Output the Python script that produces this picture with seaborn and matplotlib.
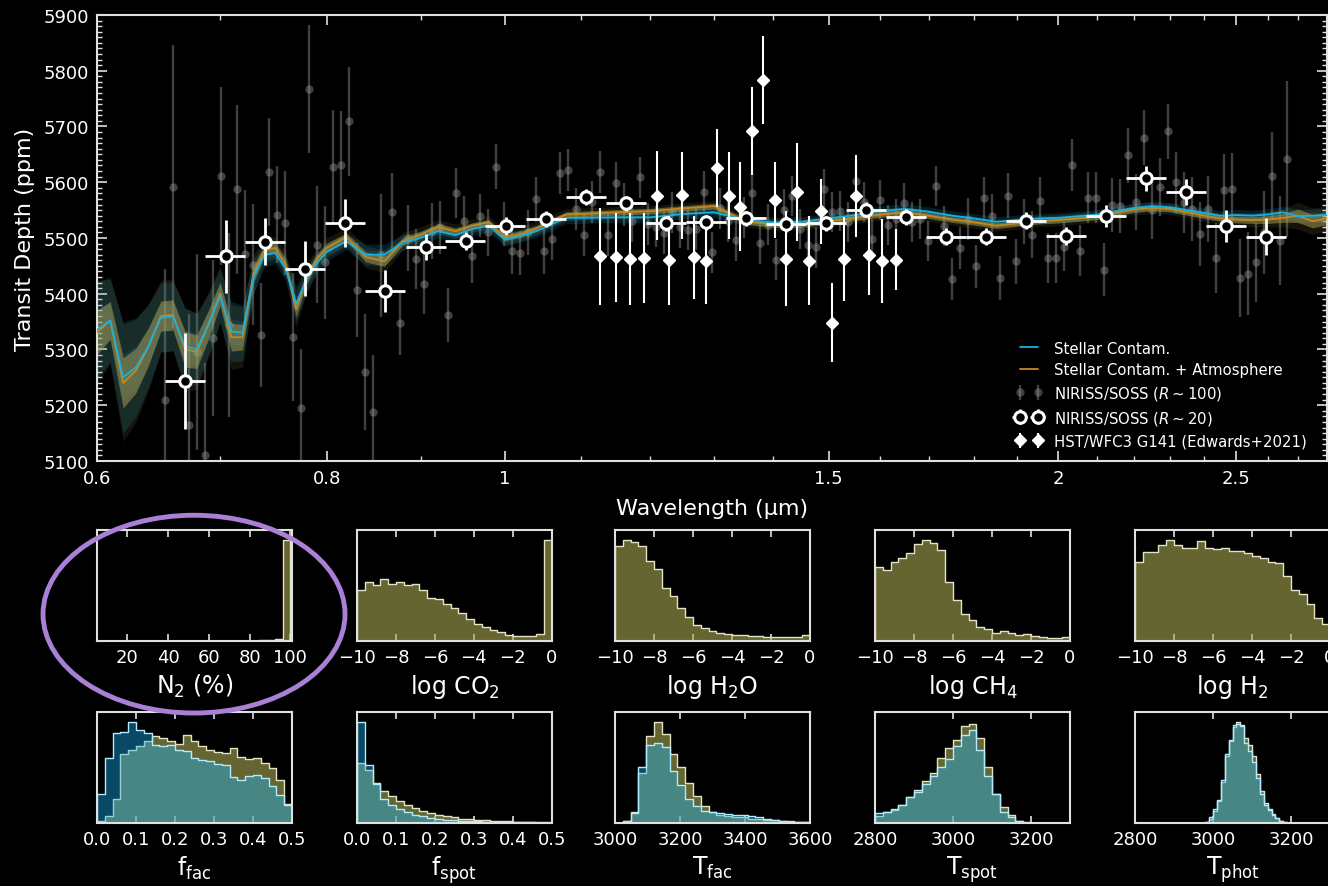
import numpy as np
import matplotlib
matplotlib.use("Agg")
import matplotlib.pyplot as plt
import seaborn as sns
from matplotlib.patches import Ellipse
from matplotlib.ticker import MultipleLocator, FixedLocator, FixedFormatter, NullFormatter

# ---------------- spectrum data ----------------
gray_wl = [0.6536, 0.6602, 0.6736, 0.6804, 0.6872, 0.6941, 0.7011, 0.7082, 0.7153, 0.7225,
           0.7298, 0.7371, 0.7445, 0.7520, 0.7596, 0.7672, 0.7749, 0.7827, 0.7906, 0.7985,
           0.8066, 0.8147, 0.8229, 0.8312, 0.8395, 0.8480, 0.8565,
           0.8684, 0.8771, 0.8860, 0.8949, 0.9039, 0.9130, 0.9222, 0.9315, 0.9408, 0.9503,
           0.9599, 0.9695, 0.9793, 0.9892, 0.9991, 1.0092, 1.0194, 1.0296, 1.0400, 1.0504,
           1.0610, 1.0717, 1.0825, 1.0934, 1.1044, 1.1155, 1.1267, 1.1381, 1.1495, 1.1611,
           1.1728, 1.1846, 1.1965, 1.2086, 1.2207, 1.2330, 1.2455, 1.2580, 1.2707, 1.2834,
           1.2964, 1.3094, 1.3226, 1.3359, 1.3494, 1.3629, 1.3767, 1.3905, 1.4045, 1.4186,
           1.4329, 1.4474, 1.4620, 1.4767, 1.4915, 1.5065, 1.5217, 1.5370, 1.5525, 1.5681,
           1.5839, 1.5999, 1.6159, 1.6322, 1.6486, 1.6652, 1.6820, 1.6989, 1.7160, 1.7333,
           1.7508, 1.7684, 1.7862, 1.8042, 1.8223, 1.8407, 1.8592, 1.8779, 1.8968, 1.9159,
           1.9352, 1.9547, 1.9744, 1.9943, 2.0143, 2.0346, 2.0551, 2.0758, 2.0967, 2.1178,
           2.1391, 2.1606, 2.1824, 2.2044, 2.2265, 2.2490, 2.2716, 2.2945, 2.3176, 2.3409,
           2.3645, 2.3883, 2.4123, 2.4366, 2.4611, 2.4859, 2.5109, 2.5362, 2.5617, 2.5875,
           2.6136, 2.6399, 2.6620]
gray_depth = [5209, 5592, 5165, 5295, 5111, 5321, 5611, 5344, 5587, 5471,
              5452, 5326, 5618, 5542, 5527, 5322, 5195, 5767, 5488, 5456,
              5627, 5631, 5709, 5407, 5259, 5187, 5469,
              5546, 5347, 5500, 5462, 5418, 5512, 5519, 5362, 5580, 5530,
              5468, 5540, 5510, 5628, 5525, 5477, 5473, 5510, 5569, 5476,
              5498, 5617, 5622, 5552, 5505, 5564, 5618, 5505, 5598, 5560,
              5530, 5609, 5525, 5520, 5509, 5546, 5519, 5515, 5516, 5583,
              5474, 5553, 5530, 5496, 5537, 5580, 5491, 5524, 5461, 5550,
              5575, 5516, 5488, 5483, 5588, 5546, 5549, 5528, 5602, 5564,
              5498, 5568, 5524, 5534, 5562, 5528, 5534, 5494, 5593, 5521,
              5426, 5482, 5534, 5449, 5572, 5540, 5428, 5576, 5458, 5530,
              5506, 5567, 5464, 5464, 5484, 5631, 5477, 5572, 5572, 5443,
              5559, 5557, 5648, 5565, 5680, 5551, 5591, 5691, 5600, 5564,
              5552, 5507, 5552, 5464, 5586, 5588, 5428, 5436, 5456, 5510,
              5612, 5495, 5642]
gray_err = [236, 254, 199, 176, 164, 140, 160, 165, 151, 115,
            109, 94, 97, 87, 94, 115, 105, 115, 105, 102,
            102, 96, 98, 84, 104, 103, 110,
            71, 57, 59, 54, 55, 50, 48, 48, 45, 45,
            48, 39, 42, 40, 40, 42, 40, 40, 40, 40,
            38, 38, 38, 38, 38, 38, 38, 38, 38, 38,
            37, 37, 37, 37, 37, 37, 37, 37, 37, 37,
            37, 37, 37, 37, 37, 37, 37, 37, 37, 37,
            36, 36, 36, 36, 36, 36, 36, 36, 36, 36,
            36, 36, 36, 36, 36, 36, 36, 36, 36, 36,
            38, 38, 38, 38, 38, 38, 40, 40, 40, 40,
            42, 42, 44, 44, 44, 46, 46, 46, 46, 48,
            48, 48, 50, 50, 50, 52, 52, 50, 55, 55,
            58, 58, 60, 62, 65, 65, 70, 75, 70, 75,
            78, 80, 140]

r20_wl = [0.670, 0.705, 0.741, 0.779, 0.819, 0.861, 0.906, 0.952, 1.001, 1.053,
          1.107, 1.164, 1.224, 1.287, 1.353, 1.422, 1.495, 1.572, 1.653, 1.738,
          1.827, 1.921, 2.020, 2.124, 2.233, 2.348, 2.469, 2.595]
r20_depth = [5244, 5467, 5493, 5445, 5526, 5405, 5484, 5494, 5521, 5534,
             5573, 5562, 5526, 5528, 5535, 5525, 5526, 5551, 5538, 5502,
             5502, 5531, 5503, 5540, 5607, 5583, 5522, 5502]
r20_err = [86, 65, 42, 49, 43, 38, 23, 16, 16, 15,
           14, 14, 14, 14, 14, 14, 14, 14, 14, 15,
           15, 15, 16, 20, 22, 23, 29, 33]
R_BIN = 20

hst_wl = [1.127, 1.149, 1.170, 1.190, 1.210, 1.229, 1.248, 1.267, 1.286, 1.305,
          1.324, 1.343, 1.362, 1.381, 1.402, 1.422, 1.442, 1.463, 1.485, 1.507,
          1.530, 1.553, 1.578, 1.604, 1.632]
hst_depth = [5467, 5465, 5462, 5464, 5576, 5460, 5577, 5465, 5459, 5626,
             5576, 5556, 5692, 5783, 5568, 5463, 5582, 5459, 5548, 5348,
             5462, 5575, 5469, 5459, 5461]
hst_err = [87, 80, 82, 80, 80, 80, 78, 75, 78, 70,
           78, 80, 79, 79, 68, 85, 88, 80, 58, 71,
           75, 74, 72, 75, 55]

# ---------------- model curves ----------------
wl_model = [0.60, 0.61, 0.62, 0.63, 0.64, 0.65, 0.66, 0.67, 0.68, 0.69, 0.70,
            0.71, 0.72, 0.73, 0.74, 0.75, 0.76, 0.77, 0.78, 0.79, 0.80,
            0.82, 0.84, 0.86, 0.88, 0.90, 0.92, 0.94, 0.96, 0.98, 1.00,
            1.02, 1.04, 1.06, 1.08, 1.10,
            1.15, 1.20, 1.25, 1.30, 1.35, 1.40, 1.45, 1.50, 1.55, 1.60,
            1.65, 1.70, 1.75, 1.80, 1.85, 1.90, 1.95, 2.00, 2.05, 2.10,
            2.15, 2.20, 2.25, 2.30, 2.35, 2.40, 2.45, 2.50, 2.55, 2.60,
            2.65, 2.70, 2.75, 2.80]
model_sc = [5335, 5352, 5250, 5268, 5306, 5357, 5359, 5305, 5301, 5345, 5396,
            5332, 5330, 5430, 5470, 5473, 5445, 5382, 5425, 5455, 5475,
            5494, 5470, 5470, 5492, 5500, 5512, 5505, 5516, 5522, 5497,
            5504, 5512, 5524, 5536, 5536,
            5537, 5537, 5543, 5546, 5532, 5528, 5529, 5535, 5541, 5548,
            5552, 5547, 5540, 5535, 5529, 5532, 5535, 5536, 5539, 5542,
            5548, 5554, 5557, 5555, 5550, 5545, 5540, 5541, 5540, 5542,
            5546, 5539, 5540, 5541]
model_atm = [5330, 5352, 5240, 5262, 5305, 5360, 5362, 5300, 5296, 5345, 5400,
             5322, 5322, 5436, 5478, 5482, 5452, 5372, 5428, 5462, 5482,
             5502, 5466, 5458, 5494, 5506, 5520, 5512, 5522, 5528, 5501,
             5507, 5517, 5530, 5542, 5543,
             5546, 5548, 5553, 5557, 5530, 5524, 5524, 5530, 5536, 5542,
             5546, 5540, 5533, 5528, 5522, 5526, 5530, 5532, 5535, 5538,
             5545, 5551, 5554, 5552, 5546, 5540, 5535, 5533, 5532, 5533,
             5536, 5540, 5530, 5535]
sig1_sc = [38, 32, 42, 38, 32, 26, 26, 30, 28, 24, 20,
           23, 21, 14, 9, 8, 9, 13, 10, 8, 7,
           6, 8, 8, 6, 5, 5, 5, 5, 5, 5,
           5, 5, 4, 4, 4,
           4, 4, 4, 4, 4, 4, 4, 4, 4, 4,
           4, 4, 4, 4, 4, 4, 4, 4, 4, 4,
           4, 4, 4, 4, 4, 4, 4, 5, 5, 5,
           5, 6, 6, 6]
sig2_sc = [88, 74, 100, 88, 74, 62, 62, 70, 64, 55, 48,
           54, 50, 32, 22, 19, 22, 32, 24, 19, 17,
           14, 19, 19, 14, 12, 12, 11, 11, 11, 12,
           11, 11, 10, 10, 10,
           9, 9, 9, 9, 9, 9, 9, 9, 9, 9,
           9, 9, 9, 9, 9, 9, 9, 9, 9, 9,
           9, 9, 9, 9, 9, 9, 9, 10, 10, 10,
           11, 12, 12, 12]
sig1_atm = [40, 34, 45, 40, 34, 27, 27, 32, 30, 26, 21,
            25, 23, 15, 10, 9, 10, 14, 11, 9, 8,
            7, 9, 9, 7, 6, 6, 6, 5, 5, 6,
            6, 5, 5, 5, 5,
            5, 5, 5, 5, 5, 5, 5, 5, 5, 5,
            5, 5, 5, 5, 5, 5, 5, 5, 5, 5,
            5, 5, 5, 5, 5, 5, 5, 6, 6, 7,
            8, 12, 12, 11]
sig2_atm = [92, 78, 105, 92, 78, 64, 64, 74, 68, 58, 50,
            58, 54, 34, 23, 20, 23, 33, 25, 20, 18,
            16, 20, 20, 16, 14, 13, 13, 12, 12, 13,
            13, 12, 11, 11, 11,
            10, 10, 10, 10, 10, 10, 10, 10, 10, 10,
            10, 10, 10, 10, 10, 10, 10, 10, 10, 10,
            10, 10, 10, 10, 10, 10, 10, 12, 12, 14,
            16, 24, 24, 22]

# ---------------- posterior histograms (relative heights) ----------------
n2_range = (5, 100)
n2_atm = [0, 0, 0, 0, 0, 0, 0, 0, 0, 0, 0, 0, 0, 0, 0, 0, 0, 0, 0,
          0.003, 0.004, 0.006, 0.008, 0.015, 0.905]
co2_range = (-10, 0)
co2_atm = [0.46, 0.527, 0.50, 0.556, 0.51, 0.527, 0.506, 0.51, 0.456, 0.39,
           0.38, 0.33, 0.30, 0.25, 0.20, 0.157, 0.127, 0.098, 0.083, 0.053,
           0.044, 0.044, 0.047, 0.06, 0.905]
h2o_range = (-10, 0)
h2o_atm = [0.85, 0.905, 0.89, 0.855, 0.72, 0.645, 0.48, 0.40, 0.30, 0.215,
           0.14, 0.113, 0.09, 0.068, 0.062, 0.055, 0.05, 0.045, 0.042, 0.038,
           0.036, 0.034, 0.036, 0.04, 0.053]
ch4_range = (-10, 0)
ch4_atm = [0.666, 0.636, 0.71, 0.746, 0.79, 0.867, 0.905, 0.88, 0.822, 0.527,
           0.364, 0.246, 0.186, 0.127, 0.107, 0.068, 0.089, 0.074, 0.053, 0.059,
           0.047, 0.038, 0.030, 0.024, 0.038]
h2_range = (-10, 0)
h2_atm = [0.713, 0.80, 0.80, 0.858, 0.905, 0.858, 0.84, 0.84, 0.896, 0.84,
          0.83, 0.84, 0.81, 0.81, 0.79, 0.763, 0.75, 0.713, 0.70, 0.58,
          0.46, 0.42, 0.334, 0.207, 0.157]
ffac_range = (0, 0.5)
ffac_atm = [0.02, 0.06, 0.22, 0.62, 0.66, 0.69, 0.74, 0.78, 0.76, 0.74,
            0.71, 0.79, 0.74, 0.69, 0.66, 0.64, 0.63, 0.67, 0.59, 0.575,
            0.585, 0.54, 0.495, 0.39, 0.17]
ffac_sc = [0.26, 0.585, 0.81, 0.82, 0.905, 0.84, 0.81, 0.70, 0.69, 0.70,
           0.66, 0.645, 0.585, 0.57, 0.555, 0.53, 0.525, 0.41, 0.39, 0.42,
           0.43, 0.40, 0.33, 0.25, 0.16]
fspot_range = (0, 0.5)
fspot_atm = [0.54, 0.48, 0.36, 0.29, 0.245, 0.20, 0.16, 0.135, 0.11, 0.09,
             0.075, 0.06, 0.05, 0.04, 0.035, 0.03, 0.025, 0.02, 0.018, 0.015,
             0.012, 0.01, 0.008, 0.006, 0.005]
fspot_sc = [0.91, 0.525, 0.347, 0.22, 0.16, 0.125, 0.095, 0.075, 0.06, 0.045,
            0.035, 0.03, 0.025, 0.02, 0.018, 0.015, 0.013, 0.012, 0.01, 0.01,
            0.008, 0.006, 0.005, 0.004, 0.003]
tfac_range = (3000, 3600)
tfac_atm = [0.0, 0.02, 0.10, 0.45, 0.78, 0.905, 0.80, 0.62, 0.50, 0.36,
            0.24, 0.15, 0.10, 0.075, 0.065, 0.055, 0.05, 0.04, 0.035, 0.03,
            0.025, 0.018, 0.012, 0.01, 0.008]
tfac_sc = [0.0, 0.02, 0.09, 0.50, 0.70, 0.72, 0.68, 0.47, 0.34, 0.22,
           0.15, 0.11, 0.10, 0.09, 0.085, 0.075, 0.07, 0.06, 0.05, 0.04,
           0.03, 0.02, 0.015, 0.01, 0.008]
tspot_range = (2800, 3300)
tspot_atm = [0.065, 0.095, 0.12, 0.16, 0.23, 0.30, 0.38, 0.45, 0.585, 0.67,
             0.75, 0.87, 0.89, 0.76, 0.50, 0.26, 0.14, 0.07, 0.02, 0.005,
             0, 0, 0, 0, 0]
tspot_sc = [0.09, 0.10, 0.125, 0.16, 0.23, 0.28, 0.35, 0.42, 0.50, 0.575,
            0.69, 0.79, 0.837, 0.66, 0.42, 0.26, 0.095, 0.05, 0.015, 0.003,
            0, 0, 0, 0, 0]
tphot_range = (2980, 3190)
tphot_atm = [0.005, 0.04, 0.11, 0.20, 0.37, 0.60, 0.74, 0.86, 0.905, 0.88,
             0.76, 0.70, 0.60, 0.44, 0.29, 0.18, 0.13, 0.08, 0.045, 0.018, 0.005]
tphot_sc = [0.006, 0.05, 0.125, 0.21, 0.39, 0.62, 0.745, 0.88, 0.89, 0.87,
            0.72, 0.65, 0.55, 0.40, 0.26, 0.16, 0.12, 0.075, 0.045, 0.02, 0.006]

# ---------------- style ----------------
sns.set_theme(style="ticks")
plt.rcParams.update({
    "figure.facecolor": "black", "axes.facecolor": "black", "savefig.facecolor": "black",
    "axes.edgecolor": "#e0e0e0", "axes.linewidth": 1.5,
    "text.color": "white", "axes.labelcolor": "white",
    "xtick.color": "#e0e0e0", "ytick.color": "#e0e0e0",
    "xtick.labelcolor": "white", "ytick.labelcolor": "white",
    "xtick.direction": "in", "ytick.direction": "in",
    "legend.labelcolor": "white",
    "mathtext.fontset": "dejavusans",
})
plt.rcParams["font.family"] = ["DejaVu Sans"]

C_SC = "#1ab0e0"
C_ATM = "#c08a20"
C_BAND_ATM = "#b0a055"
C_OLIVE = "#aaaa55"
C_BLUE = "#1ab9ff"

fig = plt.figure(figsize=(13.28, 8.87), dpi=100)
ax = fig.add_axes([0.0730, 0.4792, 0.9262, 0.5028])
ax.set_xscale("log")

eb_gray = ax.errorbar(gray_wl, gray_depth, yerr=gray_err, fmt="o", ms=6, color="#a8a8a8",
                      alpha=0.38, elinewidth=1.7, capsize=0, mew=0, zorder=1)

wlm = np.array(wl_model)
bands = [(model_sc, sig1_sc, sig2_sc, C_SC, 0.12, 0.17),
         (model_atm, sig1_atm, sig2_atm, C_BAND_ATM, 0.5, 0.12)]
for mod, s1, s2, col, a1, a2 in bands:
    m = np.array(mod, float)
    ax.fill_between(wlm, m - np.array(s2), m + np.array(s2), color=col, alpha=a2, lw=0, zorder=2)
for mod, s1, s2, col, a1, a2 in bands:
    m = np.array(mod, float)
    ax.fill_between(wlm, m - np.array(s1), m + np.array(s1), color=col, alpha=a1, lw=0, zorder=2)

sns.lineplot(x=wl_model, y=model_atm, ax=ax, color=C_ATM, lw=1.3, zorder=3)
line_atm = ax.lines[-1]
sns.lineplot(x=wl_model, y=model_sc, ax=ax, color=C_SC, lw=1.3, zorder=3)
line_sc = ax.lines[-1]

r20 = np.array(r20_wl)
eb_hst = ax.errorbar(hst_wl, hst_depth, yerr=hst_err, fmt="D", ms=6, color="white",
                     mec="white", elinewidth=1.5, capsize=0, zorder=5)
eb_r20 = ax.errorbar(r20_wl, r20_depth, xerr=r20 / (2 * R_BIN), yerr=r20_err, fmt="o", ms=8.3,
                     mfc="black", mec="white", mew=2.2, ecolor="white", elinewidth=2,
                     capsize=0, zorder=6)

ax.set_xlim(0.6, 2.8)
ax.set_ylim(5100, 5900)
ax.xaxis.set_major_locator(FixedLocator([0.6, 0.8, 1.0, 1.5, 2.0, 2.5]))
ax.xaxis.set_major_formatter(FixedFormatter(["0.6", "0.8", "1", "1.5", "2", "2.5"]))
ax.xaxis.set_minor_locator(FixedLocator([0.7, 0.9, 1.1, 1.2, 1.3, 1.4, 1.6, 1.7, 1.8, 1.9,
                                         2.1, 2.2, 2.3, 2.4, 2.6, 2.7]))
ax.xaxis.set_minor_formatter(NullFormatter())
ax.yaxis.set_major_locator(MultipleLocator(100))
ax.yaxis.set_minor_locator(MultipleLocator(10))
ax.tick_params(which="both", direction="in", top=True, right=True)
ax.tick_params(which="major", length=7, width=1.2, labelsize=13, pad=6)
ax.tick_params(which="minor", length=3.5, width=1.0)
ax.set_xlabel("Wavelength (μm)", fontsize=16, labelpad=8)
ax.set_ylabel("Transit Depth (ppm)", fontsize=16, labelpad=6)

ax.legend([line_sc, line_atm, eb_gray, eb_r20, eb_hst],
          ["Stellar Contam.", "Stellar Contam. + Atmosphere",
           r"NIRISS/SOSS ($R\sim100$)", r"NIRISS/SOSS ($R\sim20$)",
           "HST/WFC3 G141 (Edwards+2021)"],
          loc="lower right", bbox_to_anchor=(0.992, 0.005), frameon=False, fontsize=10.7,
          numpoints=2, handlelength=1.8, handletextpad=0.8, labelspacing=0.45,
          borderaxespad=0.3)

# ---------------- histogram panels ----------------
col_left = [0.0730, 0.2688, 0.4631, 0.6589, 0.8547]
row_bottom = [0.2762, 0.0710]
pw, ph = 0.1468, 0.1255

panels = [
    (0, 0, r"N$_2$ (%)", n2_range, n2_atm, None, [20, 40, 60, 80, 100], (5, 100.8)),
    (0, 1, r"log CO$_2$", co2_range, co2_atm, None, [-10, -8, -6, -4, -2, 0], (-10, 0)),
    (0, 2, r"log H$_2$O", h2o_range, h2o_atm, None, [-10, -8, -6, -4, -2, 0], (-10, 0)),
    (0, 3, r"log CH$_4$", ch4_range, ch4_atm, None, [-10, -8, -6, -4, -2, 0], (-10, 0)),
    (0, 4, r"log H$_2$", h2_range, h2_atm, None, [-10, -8, -6, -4, -2, 0], (-10, 0)),
    (1, 0, r"f$_{\mathrm{fac}}$", ffac_range, ffac_atm, ffac_sc, [0.0, 0.1, 0.2, 0.3, 0.4, 0.5], (0, 0.5)),
    (1, 1, r"f$_{\mathrm{spot}}$", fspot_range, fspot_atm, fspot_sc, [0.0, 0.1, 0.2, 0.3, 0.4, 0.5], (0, 0.5)),
    (1, 2, r"T$_{\mathrm{fac}}$", tfac_range, tfac_atm, tfac_sc, [3000, 3200, 3400, 3600], (3000, 3600)),
    (1, 3, r"T$_{\mathrm{spot}}$", tspot_range, tspot_atm, tspot_sc, [2800, 3000, 3200], (2800, 3300)),
    (1, 4, r"T$_{\mathrm{phot}}$", tphot_range, tphot_atm, tphot_sc, [2800, 3000, 3200], (2800, 3300)),
]

for row, col, label, rng, h_atm, h_sc, ticks, xlim in panels:
    axh = fig.add_axes([col_left[col], row_bottom[row], pw, ph])
    edges = np.linspace(rng[0], rng[1], len(h_atm) + 1)
    centers = 0.5 * (edges[:-1] + edges[1:])
    sns.histplot(x=list(centers), weights=list(h_atm), bins=list(edges), element="step",
                 fill=True, color=C_OLIVE, alpha=0.6, edgecolor="#e4e4c4", linewidth=1.0, ax=axh)
    if h_sc is not None:
        sns.histplot(x=list(centers), weights=list(h_sc), bins=list(edges), element="step",
                     fill=True, color=C_BLUE, alpha=0.4, edgecolor="#b0ecff", linewidth=1.0,
                     ax=axh)
    axh.set_xlim(*xlim)
    axh.set_ylim(0, 1)
    axh.set_xticks(ticks)
    axh.set_yticks([])
    axh.set_ylabel("")
    axh.set_xlabel(label, fontsize=17, labelpad=4)
    axh.tick_params(axis="x", which="both", direction="in", top=True, length=5, width=1.2,
                    labelsize=13, pad=5)
    for sp in axh.spines.values():
        sp.set_color("#e0e0e0")
        sp.set_linewidth(1.5)

fig.add_artist(Ellipse((0.1461, 0.3065), 0.2274, 0.2230, transform=fig.transFigure,
                       fill=False, edgecolor="#aa7fd6", lw=3.5))

fig.savefig("out.png", dpi=100, facecolor="black")
